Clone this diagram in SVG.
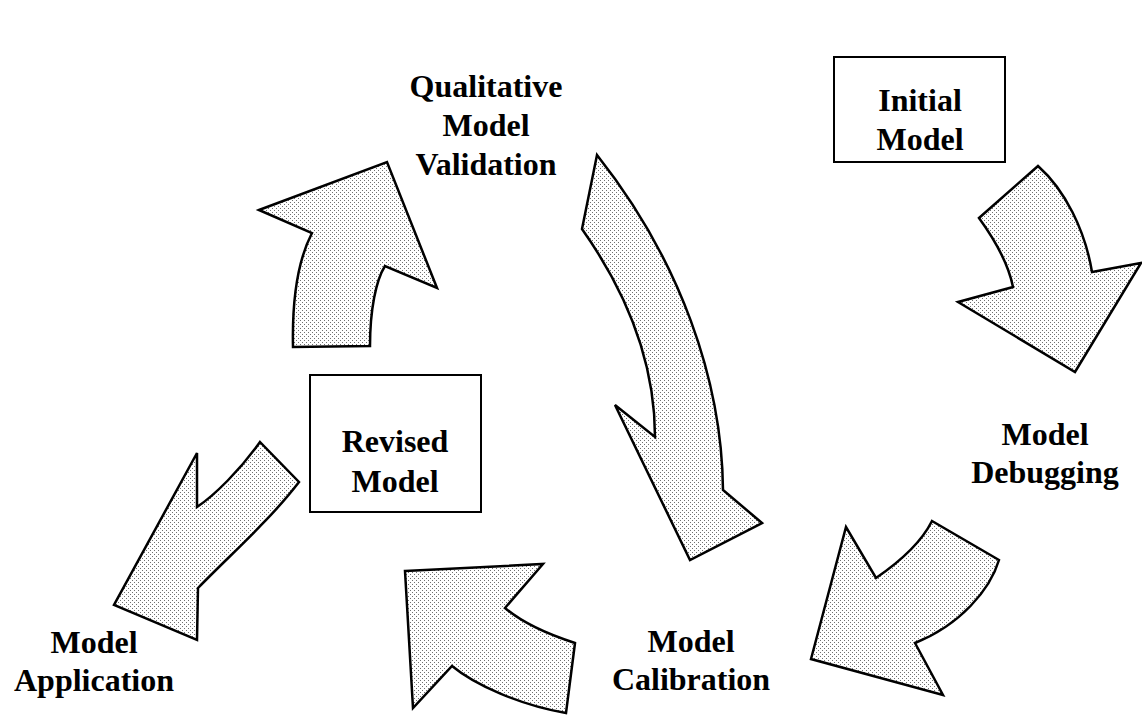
<svg xmlns="http://www.w3.org/2000/svg" width="1142" height="721" viewBox="0 0 1142 721">
<defs>
<pattern id="dots" patternUnits="userSpaceOnUse" x="0" y="0" width="4" height="4">
<rect width="4" height="4" fill="#ffffff"/>
<rect x="0" y="0" width="1" height="1" fill="#707070"/>
<rect x="2" y="2" width="1" height="1" fill="#707070"/>
</pattern>
</defs>
<style>
.arrow{fill:url(#dots);stroke:#000;stroke-width:2.5;stroke-linejoin:miter}
.box{fill:#fff;stroke:#000;stroke-width:2}
.lbl{font-family:"Liberation Serif","Times New Roman",serif;font-weight:bold;font-size:32px;fill:#000;text-anchor:middle}
</style>
<rect width="1142" height="721" fill="#fff"/>
<g id="connectors">
<path class="arrow" d="M259,210 L387,162 L437,288 L385,266 C376,280 370,310 370,346 L293,347 C292,300 298,260 312,233 Z"/>
<path class="arrow" d="M597,155 L582,229 C625,290 655,360 655,437 L615,405 L690,560 L762,523 L723,490 C722,380 680,260 597,155 Z"/>
<path class="arrow" d="M1038,166 L979,218 C995,240 1008,262 1013,287 L958,302 L1075,372 L1141,263 L1092,272 C1085,230 1065,190 1038,166 Z"/>
<path class="arrow" d="M932,521 L999,560 C990,590 960,625 915,643 L943,695 L811,659 L846,527 L876,578 C895,565 920,545 932,521 Z"/>
<path class="arrow" d="M405,571 L543,564 L505,608 C525,625 550,635 575,643 L566,713 C520,705 475,685 452,666 L413,708 Z"/>
<path class="arrow" d="M260,442 L299,482 C270,520 230,555 198,588 L197,640 L114,605 L197,453 L197,507 C215,495 240,470 260,442 Z"/>
</g>
<g id="initial-model">
<rect class="box" x="834" y="57" width="171" height="105"/>
<text class="lbl" x="920" y="111">Initial</text>
<text class="lbl" x="920" y="150">Model</text>
</g>
<g id="revised-model">
<rect class="box" x="310" y="375" width="171" height="137"/>
<text class="lbl" x="395" y="452">Revised</text>
<text class="lbl" x="395" y="492">Model</text>
</g>
<g id="qualitative-model-validation">
<text class="lbl" x="486" y="97">Qualitative</text>
<text class="lbl" x="486" y="136">Model</text>
<text class="lbl" x="486" y="175">Validation</text>
</g>
<g id="model-debugging">
<text class="lbl" x="1045" y="445">Model</text>
<text class="lbl" x="1045" y="483">Debugging</text>
</g>
<g id="model-calibration">
<text class="lbl" x="691" y="652">Model</text>
<text class="lbl" x="691" y="690">Calibration</text>
</g>
<g id="model-application">
<text class="lbl" x="94" y="653">Model</text>
<text class="lbl" x="94" y="691">Application</text>
</g>
</svg>
